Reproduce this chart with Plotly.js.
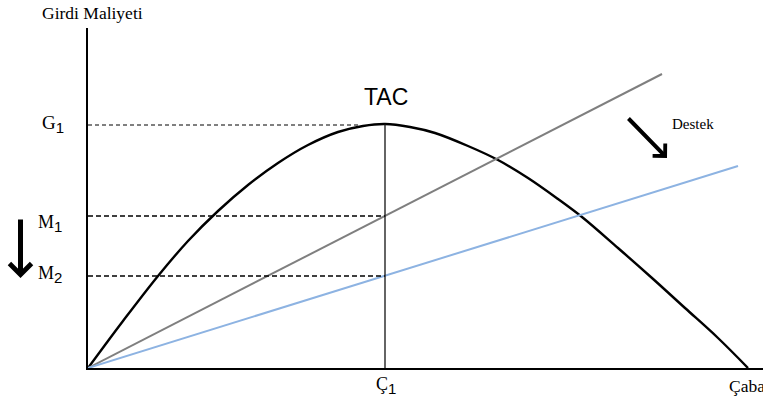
<!DOCTYPE html>
<html>
<head>
<meta charset="utf-8">
<script src="https://cdn.plot.ly/plotly-3.0.1.min.js"></script>
<style>
  html, body { margin: 0; padding: 0; background: #fff; }
  #plot { width: 763px; height: 403px; }
</style>
</head>
<body>
<div id="plot"></div>
<script>
// TAC curve (x = effort, y = input cost)
var tacX = [0, 17, 35, 70, 100, 130, 160, 190, 220, 250, 275, 297, 322, 347, 380, 410, 440, 470, 494, 530, 564, 597, 630, 660];
var tacY = [0, 23, 47, 92, 127, 157, 183, 205, 223, 236, 242, 244, 241, 235, 222, 208, 190, 169, 151, 120, 90, 60, 30, 0];

// cost lines before and after support
var costX = [0, 574];
var costY = [0, 294];
var supportX = [0, 650];
var supportY = [0, 202];

// reference levels
var c1 = 297;
var g1 = 243;
var m1 = 152;
var m2 = 92;
var g1End = 272;

var traces = [
  {x: tacX, y: tacY, mode: "lines", line: {color: "#000", width: 2.4, shape: "spline", smoothing: 1}},
  {x: costX, y: costY, mode: "lines", line: {color: "#7f7f7f", width: 2}},
  {x: supportX, y: supportY, mode: "lines", line: {color: "#8db3e2", width: 2}},
  {x: [0, g1End], y: [g1, g1], mode: "lines", line: {color: "#000", width: 1, dash: "4px,3px"}},
  {x: [0, c1], y: [m1, m1], mode: "lines", line: {color: "#000", width: 1.6, dash: "5px,3px"}},
  {x: [0, c1], y: [m2, m2], mode: "lines", line: {color: "#000", width: 1.6, dash: "5px,3px"}},
  {x: [c1, c1], y: [0, 244], mode: "lines", line: {color: "#111", width: 1.3}}
];

var serif = "Liberation Serif, Times New Roman, serif";
// subscript digit in a sans face, like the reference
function sub(d) {
  return "<sub><span style='font-family:Liberation Sans, Arial, sans-serif;font-size:15px'>" + d + "</span></sub>";
}

var layout = {
  width: 763,
  height: 403,
  margin: {l: 88, r: 0, t: 28, b: 35},
  showlegend: false,
  paper_bgcolor: "#fff",
  plot_bgcolor: "#fff",
  xaxis: {range: [0, 675], showgrid: false, zeroline: false, showticklabels: false, ticks: "",
          showline: true, linecolor: "#000", linewidth: 2},
  yaxis: {range: [0, 340], showgrid: false, zeroline: false, showticklabels: false, ticks: "",
          showline: true, linecolor: "#000", linewidth: 2},
  annotations: [
    {xref: "paper", yref: "paper", x: 0.006, y: 1.043, xanchor: "center", yanchor: "middle",
     text: "Girdi Maliyeti", showarrow: false, font: {family: serif, size: 17.5, color: "#000"}},
    {xref: "paper", yref: "paper", x: -0.052, y: 0.718, xanchor: "center", yanchor: "middle",
     text: "G" + sub(1), showarrow: false, font: {family: serif, size: 19, color: "#000"}},
    {xref: "paper", yref: "paper", x: -0.056, y: 0.424, xanchor: "center", yanchor: "middle",
     text: "M" + sub(1), showarrow: false, font: {family: serif, size: 18, color: "#000"}},
    {xref: "paper", yref: "paper", x: -0.056, y: 0.274, xanchor: "center", yanchor: "middle",
     text: "M" + sub(2), showarrow: false, font: {family: serif, size: 18, color: "#000"}},
    {xref: "paper", yref: "paper", x: 0.441, y: -0.05, xanchor: "center", yanchor: "middle",
     text: "Ç" + sub(1), showarrow: false, font: {family: serif, size: 18, color: "#000"}},
    {xref: "paper", yref: "paper", x: 0.947, y: -0.052, xanchor: "left", yanchor: "middle",
     text: "Çaba", showarrow: false, font: {family: serif, size: 17.5, color: "#000"}},
    {xref: "x", yref: "y", x: 298, y: 271, xanchor: "center", yanchor: "middle",
     text: "TAC", showarrow: false, font: {family: "Liberation Sans, Arial, sans-serif", size: 23, color: "#000"}},
    {xref: "x", yref: "y", x: 605, y: 244, xanchor: "center", yanchor: "middle",
     text: "Destek", showarrow: false, font: {family: serif, size: 15, color: "#000"}},
    // down arrow next to M1/M2
    {xref: "paper", yref: "paper", x: -0.1, y: 0.265, ax: 0, ay: -60, text: "", showarrow: true,
     arrowhead: 4, arrowsize: 0.85, arrowwidth: 5, arrowcolor: "#000"},
    // support arrow
    {xref: "x", yref: "y", x: 579, y: 210, ax: -40, ay: -41, text: "", showarrow: true,
     arrowhead: 4, arrowsize: 0.85, arrowwidth: 4, arrowcolor: "#000"}
  ]
};

Plotly.newPlot("plot", traces, layout, {displayModeBar: false, staticPlot: true});
</script>
</body>
</html>
